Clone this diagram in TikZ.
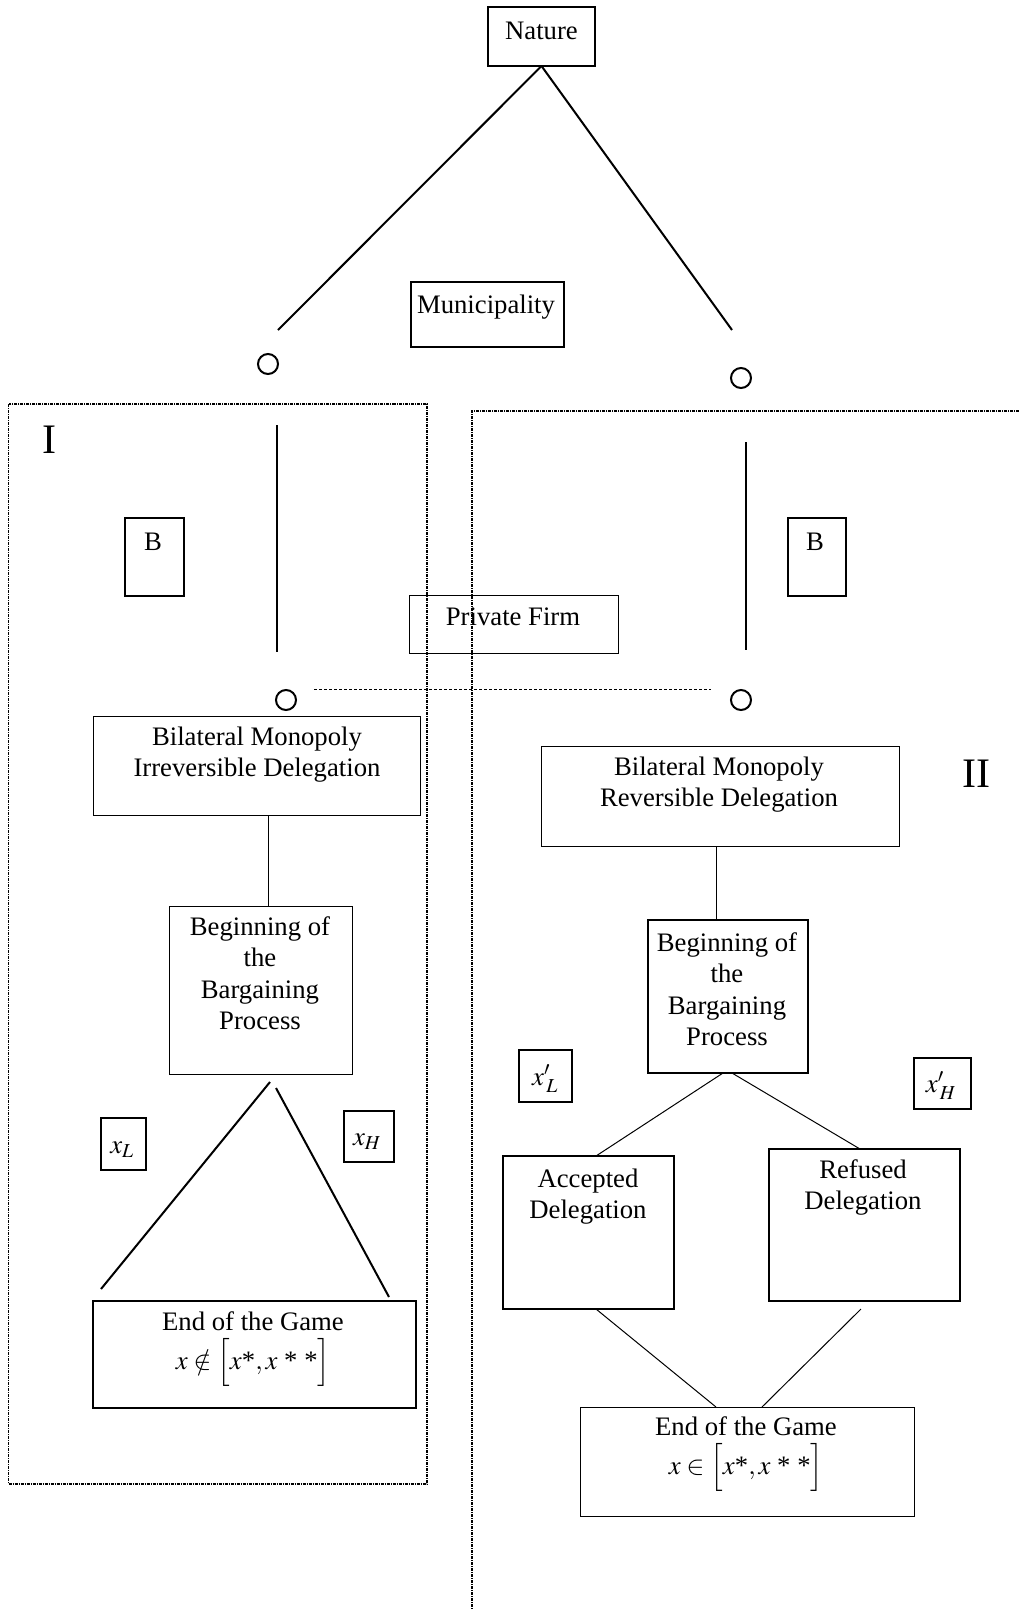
\documentclass[tikz,border=0pt]{standalone}
\usepackage{mathptmx}
\usepackage{fontspec}
\setmainfont{Liberation Serif}
\usetikzlibrary{calc}
\newcommand{\mainsize}{\fontsize{26.7}{31.5}\selectfont}
\newcommand{\romsize}{\fontsize{42}{46}\selectfont}
\newcommand{\stk}[1]{\begin{tabular}[t]{@{}c@{}}#1\end{tabular}}
\tikzset{
  thickbox/.style={draw, line width=2.2pt, inner sep=0pt, outer sep=0pt},
  thinbox/.style={draw, line width=1pt, inner sep=0pt, outer sep=0pt},
  txt/.style={anchor=base, inner sep=0pt, outer sep=0pt, font=\mainsize},
  roman/.style={anchor=base, inner sep=0pt, outer sep=0pt, font=\romsize},
  circ/.style={draw, circle, minimum size=20pt, inner sep=0pt, line width=2pt},
  heavy/.style={line width=2pt},
  light/.style={line width=1pt},
  frame/.style={line width=1.3pt, dash pattern=on 3pt off 1pt on 1pt off 1pt},
  infoset/.style={line width=1pt, dash pattern=on 3pt off 2pt}
}
\begin{document}
\begin{tikzpicture}[x=1pt,y=-1pt]
\useasboundingbox (0,0) rectangle (1019,1610);

% boxes
\node[thickbox, minimum width=107pt, minimum height=59pt] (nat) at (541.5,36.5) {};
\node[thickbox, minimum width=153pt, minimum height=65pt] (mun) at (487.5,314.5) {};
\node[thickbox, minimum width=59pt, minimum height=78pt] (bl) at (154.5,557) {};
\node[thickbox, minimum width=58pt, minimum height=78pt] (br) at (817,557) {};
\node[thinbox, minimum width=209pt, minimum height=58pt] (pf) at (513.5,624) {};
\node[thinbox, minimum width=327pt, minimum height=99pt] (lbm) at (256.5,765.5) {};
\node[thinbox, minimum width=358pt, minimum height=100pt] (rbm) at (720,796) {};
\node[thinbox, minimum width=183pt, minimum height=168pt] (lbeg) at (260.5,990) {};
\node[thickbox, minimum width=160pt, minimum height=153pt] (rbeg) at (728,996.5) {};
\node[thickbox, minimum width=45pt, minimum height=52pt] (xl) at (123.5,1144) {};
\node[thickbox, minimum width=50pt, minimum height=51pt] (xh) at (369,1136.5) {};
\node[thickbox, minimum width=53pt, minimum height=52pt] (xpl) at (545.5,1076) {};
\node[thickbox, minimum width=57pt, minimum height=51pt] (xph) at (942.5,1083.5) {};
\node[thickbox, minimum width=171pt, minimum height=153pt] (acc) at (588.5,1232.5) {};
\node[thickbox, minimum width=191pt, minimum height=152pt] (ref) at (864.5,1225) {};
\node[thickbox, minimum width=323pt, minimum height=107pt] (lend) at (254.5,1354.5) {};
\node[thinbox, minimum width=334pt, minimum height=109pt] (rend) at (747,1461.5) {};

% decision nodes
\node[circ] (c1) at (268,364) {};
\node[circ] (c2) at (741,378) {};
\node[circ] (c3) at (286,700) {};
\node[circ] (c4) at (741,700) {};

% free line ends
\coordinate (nl) at (278,330);
\coordinate (nr) at (732,330);
\coordinate (vl1) at (277,425);
\coordinate (vl2) at (277,652);
\coordinate (vr1) at (746,442);
\coordinate (vr2) at (746,650);
\coordinate (h1) at (314,689);
\coordinate (h2) at (711,689);
\coordinate (ta) at (270,1082);
\coordinate (tb) at (101,1289);
\coordinate (tc) at (276,1088);
\coordinate (td) at (389,1297);
\coordinate (cl) at (268,0);
\coordinate (cr) at (716,0);

% connectors
\draw[heavy] (nat.south) -- (nl);
\draw[heavy] (nat.south) -- (nr);
\draw[heavy] (vl1) -- (vl2);
\draw[heavy] (vr1) -- (vr2);
\draw[infoset] (h1) -- (h2);
\draw[light] (lbm.south -| cl) -- (lbeg.north -| cl);
\draw[light] (rbm.south -| cr) -- (rbeg.north -| cr);
\draw[heavy] (ta) -- (tb);
\draw[heavy] (tc) -- (td);
\draw[light] ($(rbeg.south)+(-5,0)$) -- ($(acc.north)+(7.5,0)$);
\draw[light] ($(rbeg.south)+(4,0)$) -- ($(ref.north)+(-4.5,0)$);
\draw[light] ($(acc.south)+(7.5,0)$) -- ($(rend.north)+(-31,0)$);
\draw[light] ($(ref.south)+(-3.5,8)$) -- ($(rend.north)+(15,0)$);

% dashed frames
\draw[frame] (8.5,404) rectangle (427,1484);
\draw[frame] (1019,411) -- (472,411) -- (472,1610);

% texts
\node[txt] at (541.5,39) {Nature};
\node[txt] at (486,313) {Municipality};
\node[roman] at (49,453) {I};
\node[txt] at (153,550) {B};
\node[txt] at (815,550) {B};
\node[txt] at (513,625) {Private Firm};
\node[txt] at (257,745) {\stk{Bilateral Monopoly\\Irreversible Delegation}};
\node[txt] at (719,775) {\stk{Bilateral Monopoly\\Reversible Delegation}};
\node[roman] at (976,787) {II};
\node[txt] at (260,935) {\stk{Beginning of\\the\\Bargaining\\Process}};
\node[txt] at (727,951) {\stk{Beginning of\\the\\Bargaining\\Process}};
\node[txt] at (122,1153) {$x_{L}$};
\node[txt] at (367,1145) {$x_{H}$};
\node[txt] at (545,1085) {$x'_{\,L}$};
\node[txt] at (941,1092) {$x'_{\,H}$};
\node[txt] at (588,1187) {\stk{Accepted\\Delegation}};
\node[txt] at (863,1178) {\stk{Refused\\Delegation}};
\node[txt] at (253,1330) {End of the Game};
\node[txt] (lm) at (253,1369) {$x\notin\Big[x\mbox{*},x\mbox{ * *}\Big]$};
\node[txt] at (746,1435) {End of the Game};
\node[txt] (rm) at (746,1474) {$x\in\Big[x\mbox{*},x\mbox{ * *}\Big]$};
\end{tikzpicture}
\end{document}
